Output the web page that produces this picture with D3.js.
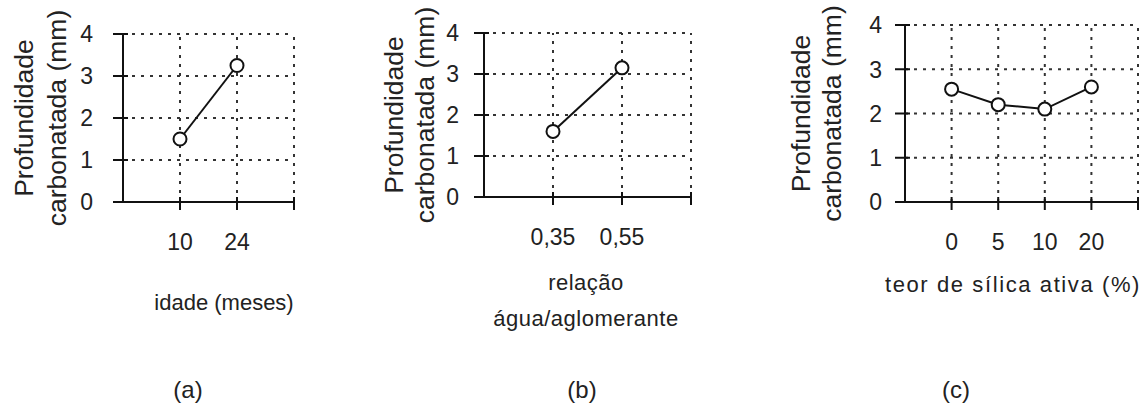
<!DOCTYPE html>
<html>
<head>
<meta charset="utf-8">
<script src="https://cdn.jsdelivr.net/npm/d3@7"></script>
<style>
  html, body { margin: 0; padding: 0; background: #fff; }
  svg { display: block; }
  text { font-family: "Liberation Sans", Arial, sans-serif; fill: #222; }
  .grid { stroke: #333; stroke-width: 2; stroke-dasharray: 3,6; fill: none; }
  .axis-line { stroke: #111; stroke-width: 2; }
  .series { stroke: #111; stroke-width: 2; fill: none; }
  .marker { stroke: #111; stroke-width: 2; fill: #fff; }
</style>
</head>
<body>
<svg id="chart" width="1147" height="405"></svg>
<script>
// values
const idadeCats = ["10", "24"];
const idadeVals = [1.5, 3.25];

const relacaoCats = ["0,35", "0,55"];
const relacaoVals = [1.6, 3.15];

const silicaCats = ["0", "5", "10", "20"];
const silicaVals = [2.55, 2.2, 2.1, 2.6];

const yTicks = [0, 1, 2, 3, 4];
const yTitle = ["Profundidade", "carbonatada (mm)"];

const xTitleA = ["idade (meses)"];
const xTitleB = ["relação", "água/aglomerante"];
const xTitleC = ["teor de sílica ativa (%)"];

const tags = ["(a)", "(b)", "(c)"];

// panel boxes (pixels)
const panels = [
  { cats: idadeCats,   vals: idadeVals,   title: xTitleA, tag: tags[0],
    x0: 123, x1: 294, top: 34, bottom: 202, ylab: [33, 66], tickGap: 30,
    titleX: 224, titleY: [310], tagX: 188, spacing: 0 },
  { cats: relacaoCats, vals: relacaoVals, title: xTitleB, tag: tags[1],
    x0: 484, x1: 691, top: 33, bottom: 197, ylab: [403, 434], tickGap: 25,
    titleX: 586, titleY: [290, 326], tagX: 582, spacing: 0.5 },
  { cats: silicaCats,  vals: silicaVals,  title: xTitleC, tag: tags[2],
    x0: 905, x1: 1138, top: 25, bottom: 202, ylab: [810, 841], tickGap: 23,
    titleX: 1013, titleY: [292], tagX: 956, spacing: 1.6 }
];

const svg = d3.select('#chart');

panels.forEach(p => drawPanel(p));

function drawPanel(p) {
  const n = p.cats.length;
  const x = d3.scaleLinear().domain([0, n + 1]).range([p.x0, p.x1]);
  const y = d3.scaleLinear().domain([0, 4]).range([p.bottom, p.top]);
  const g = svg.append('g');

  // dotted grid: horizontal at 1..4, vertical at every category and right edge
  g.selectAll('line.hgrid')
    .data(yTicks.filter(t => t > 0))
    .join('line')
    .attr('class', 'grid')
    .attr('x1', p.x0).attr('x2', p.x1)
    .attr('y1', d => y(d)).attr('y2', d => y(d));

  const vpos = d3.range(1, n + 2);
  g.selectAll('line.vgrid')
    .data(vpos)
    .join('line')
    .attr('class', 'grid')
    .attr('x1', d => x(d)).attr('x2', d => x(d))
    .attr('y1', y(0)).attr('y2', y(4));

  // axes
  g.append('line').attr('class', 'axis-line')
    .attr('x1', p.x0).attr('x2', p.x0).attr('y1', y(0)).attr('y2', y(4));
  g.append('line').attr('class', 'axis-line')
    .attr('x1', p.x0).attr('x2', p.x1).attr('y1', y(0)).attr('y2', y(0));

  // y ticks crossing the axis
  g.selectAll('line.ytick')
    .data(yTicks)
    .join('line')
    .attr('class', 'axis-line')
    .attr('x1', p.x0 - 10).attr('x2', p.x0 + 5)
    .attr('y1', d => y(d)).attr('y2', d => y(d));

  g.selectAll('text.ylab')
    .data(yTicks)
    .join('text')
    .attr('x', p.x0 - p.tickGap)
    .attr('y', d => y(d))
    .attr('dy', '0.36em')
    .attr('text-anchor', 'end')
    .style('font-size', '23px')
    .text(d => d);

  // x ticks (categories + right end)
  g.selectAll('line.xtick')
    .data(vpos)
    .join('line')
    .attr('class', 'axis-line')
    .attr('x1', d => x(d)).attr('x2', d => x(d))
    .attr('y1', y(0) - 5).attr('y2', y(0) + 8);

  g.selectAll('text.xlab')
    .data(p.cats)
    .join('text')
    .attr('x', (d, i) => x(i + 1))
    .attr('y', y(0) + 48)
    .attr('text-anchor', 'middle')
    .style('font-size', '23px')
    .text(d => d);

  // y title, two rotated lines
  const midY = (p.top + p.bottom) / 2;
  yTitle.forEach((t, i) => {
    g.append('text')
      .attr('transform', `translate(${p.ylab[i]},${midY}) rotate(-90)`)
      .attr('text-anchor', 'middle')
      .style('font-size', '26.5px')
      .text(t);
  });

  // x title
  p.title.forEach((t, i) => {
    g.append('text')
      .attr('x', p.titleX)
      .attr('y', p.titleY[i])
      .attr('text-anchor', 'middle')
      .style('font-size', '22px')
      .style('letter-spacing', p.spacing + 'px')
      .text(t);
  });

  // panel tag
  g.append('text')
    .attr('x', p.tagX)
    .attr('y', 398)
    .attr('text-anchor', 'middle')
    .style('font-size', '24px')
    .text(p.tag);

  // series
  const pts = p.vals.map((v, i) => [x(i + 1), y(v)]);
  g.append('path').attr('class', 'series').attr('d', d3.line()(pts));
  g.selectAll('circle')
    .data(pts)
    .join('circle')
    .attr('class', 'marker')
    .attr('cx', d => d[0]).attr('cy', d => d[1])
    .attr('r', 6.5);
}
</script>
</body>
</html>
